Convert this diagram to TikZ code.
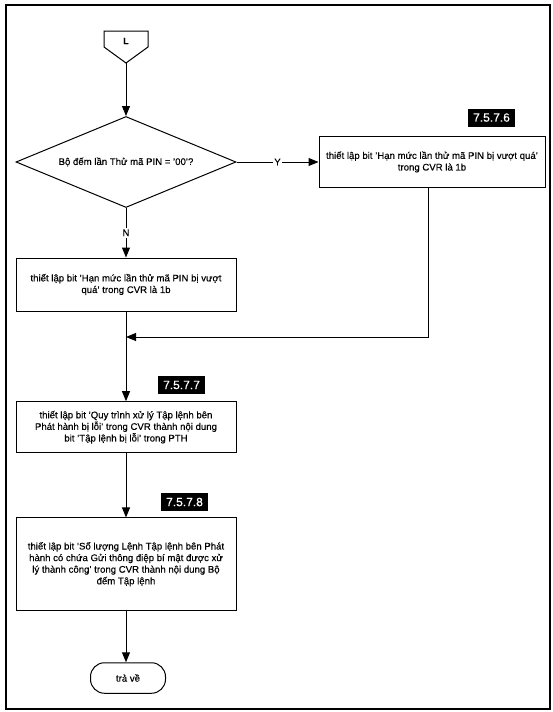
\documentclass[tikz,border=0pt]{standalone}
\usepackage{fontspec}
\setmainfont[FakeBold=0.35]{Liberation Sans}
\usetikzlibrary{arrows.meta,shapes.geometric}
\begin{document}
\begin{tikzpicture}[x=1pt,y=-1pt,
  txt/.style={font=\fontsize{9.6}{11.6}\selectfont},
  box/.style={draw, line width=1pt, minimum width=220pt, align=center, inner sep=2pt, txt},
  tag/.style={fill=black, text=white, font=\fontsize{12}{14}\selectfont, inner sep=0pt, minimum width=47pt, minimum height=18pt},
  arr/.style={-{Triangle[length=10pt,width=8pt]}, line width=1pt},
  lbl/.style={fill=white, inner sep=1.5pt, font=\fontsize{9.6}{11}\selectfont}]
\useasboundingbox (0,0) rectangle (553,712);
\draw[line width=1.3pt] (6,5) rectangle (550,709);
% start connector
\draw[line width=1pt] (104,31) -- (148,31) -- (148,47) -- (126,63) -- (104,47) -- cycle;
\node[font=\bfseries\fontsize{9}{10}\selectfont] (L) at (126,41) {L};
\coordinate (Ltip) at (126,63);
% decision
\node[diamond, draw, line width=1pt, aspect=2.43, minimum width=220pt, minimum height=91pt, inner sep=0pt, txt] (dia) at (126,162) {Bộ đếm lần Thử mã PIN = '00'?};
% boxes
\node[box, minimum width=226pt, minimum height=51pt] (b6) at (432,162) {thiết lập bit 'Hạn mức lần thử mã PIN bị vượt quá'\\trong CVR là 1b};
\node[box, minimum height=53pt] (b1) at (126,284.5) {thiết lập bit 'Hạn mức lần thử mã PIN bị vượt\\quá' trong CVR là 1b};
\node[box, minimum height=51pt] (b2) at (126,427.2) {thiết lập bit 'Quy trình xử lý Tập lệnh bên\\Phát hành bị lỗi' trong CVR thành nội dung\\bit 'Tập lệnh bị lỗi' trong PTH};
\node[box, minimum height=92.5pt] (b3) at (126,564.2) {thiết lập bit 'Số lượng Lệnh Tập lệnh bên Phát\\hành có chứa Gửi thông điệp bí mật được xử\\lý thành công' trong CVR thành nội dung Bộ\\đếm Tập lệnh};
\node[draw, line width=1pt, rounded corners=14pt, minimum width=75pt, minimum height=30.5pt, txt] (ret) at (128,678) {trả về};
% tags
\node[tag] (t6) at (491.5,117.5) {7.5.7.6};
\node[tag] (t7) at (181.5,385) {7.5.7.7};
\node[tag] (t8) at (184.5,502) {7.5.7.8};
% connectors
\coordinate (m) at (126,337);
\draw[arr] (Ltip) -- (dia.north);
\draw[arr] (dia.east) -- node[lbl] (Y) {Y} (b6.west);
\draw[arr] (dia.south) -- node[lbl] (N) {N} (b1.north);
\draw[arr] ([xshift=-4pt]b6.south) |- (m);
\draw[arr] (b1.south) -- (b2.north);
\draw[arr] (b2.south) -- (b3.north);
\draw[arr] (b3.south) -- (b3.south |- ret.north);
\end{tikzpicture}
\end{document}
